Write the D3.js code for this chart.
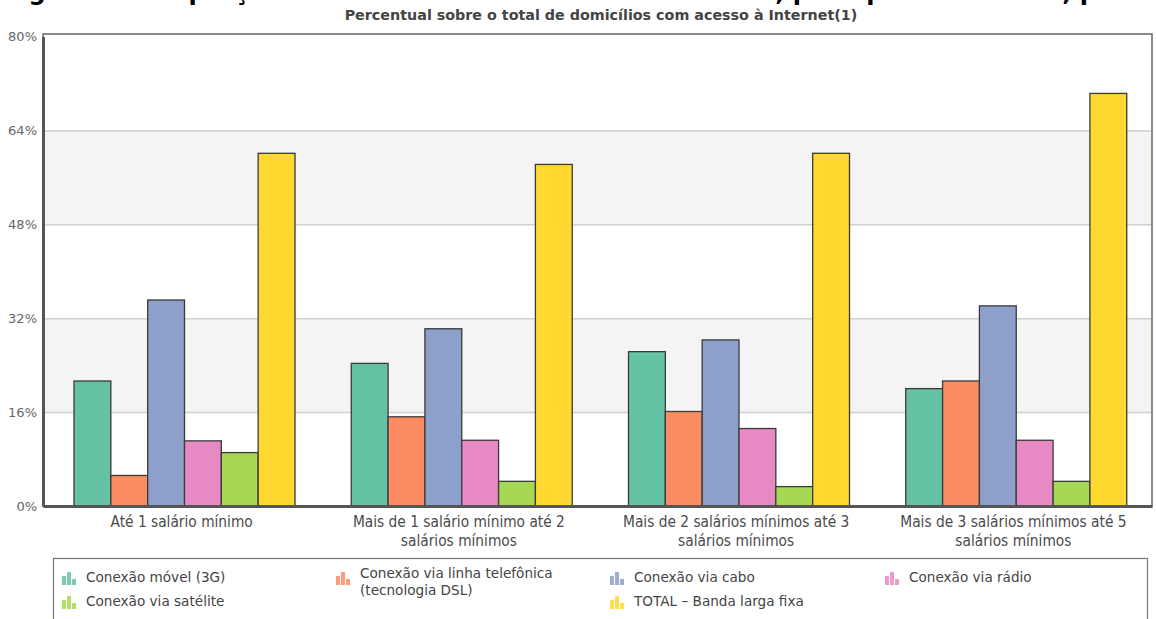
<!DOCTYPE html>
<html>
<head>
<meta charset="utf-8">
<script src="https://cdn.jsdelivr.net/npm/d3@7"></script>
<style>
  html, body { margin: 0; padding: 0; background: #fff; }
  svg { display: block; }
</style>
</head>
<body>
<svg id="chart" width="1156" height="619"></svg>
<script>
// Income brackets (x categories)
const categories = [
  "Até 1 salário mínimo",
  "Mais de 1 salário mínimo até 2 salários mínimos",
  "Mais de 2 salários mínimos até 3 salários mínimos",
  "Mais de 3 salários mínimos até 5 salários mínimos"
];
// Connection types (series)
const seriesNames = [
  "Conexão móvel (3G)",
  "Conexão via linha telefônica (tecnologia DSL)",
  "Conexão via cabo",
  "Conexão via rádio",
  "Conexão via satélite",
  "TOTAL - Banda larga fixa"
];
// Percent values, one array per series, in category order
const movel3G   = [21.3, 24.3, 26.3, 20.0];
const dsl       = [5.2, 15.2, 16.1, 21.3];
const cabo      = [35.1, 30.2, 28.3, 34.1];
const radio     = [11.1, 11.2, 13.2, 11.2];
const satelite  = [9.1, 4.2, 3.3, 4.2];
const totalFixa = [60.1, 58.2, 60.1, 70.3];
const seriesValues = [movel3G, dsl, cabo, radio, satelite, totalFixa];
const colors = ["#66c2a5", "#fc8d62", "#8da0cb", "#e78ac3", "#a6d854", "#ffd92f"];
const yTicks = [0, 16, 32, 48, 64, 80];

const titleText = "Figura 4 - Proporção de domicílios com acesso à Internet, por tipo de conexão, por renda familiar";
const subtitleText = "Percentual sobre o total de domicílios com acesso à Internet(1)";

const svg = d3.select("#chart");
const plot = { left: 43, right: 1152, top: 34, bottom: 506 };

const y = d3.scaleLinear().domain([0, 80]).range([plot.bottom, plot.top + 2.5]);
const x0 = d3.scaleBand().domain(categories).range([plot.left, plot.right]).padding(0);
const x1 = d3.scaleBand().domain(seriesNames).range([31, 252]).padding(0);

// Alternating background bands
const bandPairs = d3.pairs(yTicks).filter((d, i) => i % 2 === 1);
svg.append("g").selectAll("rect").data(bandPairs).join("rect")
  .attr("x", plot.left).attr("width", plot.right - plot.left)
  .attr("y", d => y(d[1])).attr("height", d => y(d[0]) - y(d[1]))
  .attr("fill", "#f4f4f4");

// Grid lines
svg.append("g").selectAll("line").data(yTicks.slice(1, -1)).join("line")
  .attr("x1", plot.left).attr("x2", plot.right)
  .attr("y1", d => y(d) + 0.5).attr("y2", d => y(d) + 0.5)
  .attr("stroke", "#cfcfcf").attr("stroke-width", 1.5);

// Bars
const groups = svg.append("g").selectAll("g").data(categories).join("g")
  .attr("transform", d => `translate(${x0(d)},0)`);
groups.selectAll("rect")
  .data((c, ci) => seriesNames.map((s, si) => ({ s, si, v: seriesValues[si][ci] })))
  .join("rect")
  .attr("x", d => x1(d.s))
  .attr("width", x1.bandwidth())
  .attr("y", d => y(d.v))
  .attr("height", d => y(0) - y(d.v))
  .attr("fill", d => colors[d.si])
  .attr("stroke", "#3a3a3a").attr("stroke-width", 1.3);

// Plot frame
svg.append("rect")
  .attr("x", plot.left).attr("y", plot.top)
  .attr("width", plot.right - plot.left).attr("height", plot.bottom - plot.top)
  .attr("fill", "none").attr("stroke", "#666").attr("stroke-width", 1.5);

// Y axis
const yAxis = d3.axisLeft(y).tickValues(yTicks).tickFormat(d => d + "%").tickSize(0).tickPadding(6);
const yg = svg.append("g").attr("transform", `translate(${plot.left},0)`).call(yAxis);
yg.select(".domain").attr("stroke", "#555").attr("stroke-width", 3);
yg.selectAll("text").attr("font-family", "DejaVu Sans").attr("font-size", 13).attr("fill", "#666");

// X axis
const xAxis = d3.axisBottom(x0).tickSize(0).tickPadding(0);
const xg = svg.append("g").attr("transform", `translate(0,${plot.bottom})`).call(xAxis);
xg.select(".domain").attr("stroke", "#555").attr("stroke-width", 3);
xg.selectAll("text")
  .attr("font-family", "'Liberation Sans Narrow', 'DejaVu Sans Condensed', 'Roboto Condensed', 'DejaVu Sans', sans-serif")
  .attr("font-size", 15.3).attr("fill", "#4a4a4a")
  .attr("y", 20).attr("dy", 0)
  .each(function(d) {
    const el = d3.select(this);
    const words = d.split(" ");
    el.text(null);
    let line = [];
    let lineNo = 0;
    let tspan = el.append("tspan").attr("x", 0).attr("y", 21);
    for (const w of words) {
      line.push(w);
      tspan.text(line.join(" "));
      if (tspan.node().getComputedTextLength() > 236 && line.length > 1) {
        line.pop();
        tspan.text(line.join(" "));
        line = [w];
        lineNo++;
        tspan = el.append("tspan").attr("x", 0).attr("y", 21 + lineNo * 19).text(w);
      }
    }
  });

// Title (runs off the top edge) and subtitle
svg.append("text")
  .attr("x", 4).attr("y", 0)
  .attr("font-family", "DejaVu Sans").attr("font-weight", "bold").attr("font-size", 24)
  .attr("fill", "#000").text(titleText);
svg.append("text")
  .attr("x", 601).attr("y", 20)
  .attr("text-anchor", "middle")
  .attr("font-family", "DejaVu Sans").attr("font-weight", "bold").attr("font-size", 14.3)
  .attr("fill", "#444").text(subtitleText);

// Legend
const legend = svg.append("g");
legend.append("rect")
  .attr("x", 53.5).attr("y", 558.5).attr("width", 1094).attr("height", 62)
  .attr("fill", "#fff").attr("stroke", "#777").attr("stroke-width", 1.2);
const legendCols = [62, 336, 610, 885];
const legendItems = seriesNames.map((s, i) => ({
  s, i,
  col: i < 4 ? i : (i === 4 ? 0 : 2),
  row: i < 4 ? 0 : 1
}));
const li = legend.selectAll("g.item").data(legendItems).join("g")
  .attr("class", "item")
  .attr("transform", d => `translate(${legendCols[d.col]},${570 + d.row * 24})`);
// Small bar-chart glyph in each series colour
const glyphBars = [[0, 6, 9], [5, 2, 13], [10, 9, 6]];
li.each(function(d) {
  const g = d3.select(this);
  glyphBars.forEach(b => {
    g.append("rect").attr("x", b[0]).attr("y", b[1]).attr("width", 4).attr("height", b[2])
      .attr("fill", colors[d.i]).attr("opacity", 0.85);
  });
});
li.append("text")
  .attr("x", 24).attr("y", 12)
  .attr("font-family", "DejaVu Sans").attr("font-size", 13.6).attr("fill", "#444")
  .each(function(d) {
    const el = d3.select(this);
    const label = d.s.replace("TOTAL - ", "TOTAL – ");
    const m = label.match(/^(.*) (\(tecnologia DSL\))$/);
    if (m) {
      el.append("tspan").attr("x", 24).attr("y", 8).text(m[1]);
      el.append("tspan").attr("x", 24).attr("y", 25).text(m[2]);
    } else {
      el.text(label);
    }
  });
</script>
</body>
</html>
